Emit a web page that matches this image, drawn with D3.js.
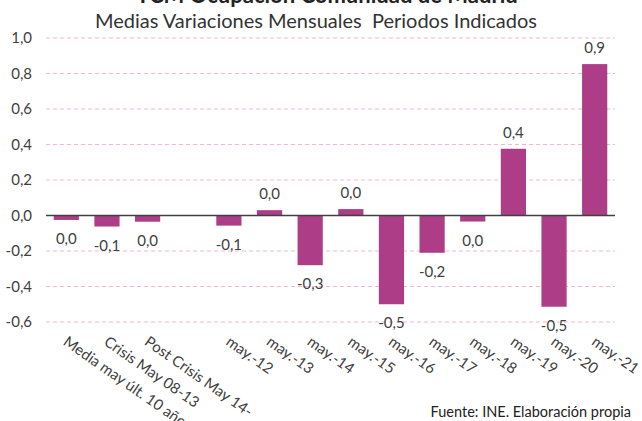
<!DOCTYPE html>
<html>
<head>
<meta charset="utf-8">
<script src="https://cdn.jsdelivr.net/npm/d3@7"></script>
<style>
  body { margin: 0; background: #fff; }
  svg { display: block; font-family: Lato, "Liberation Sans", Arial, sans-serif; }
</style>
</head>
<body>
<div id="chart"></div>
<script>
// data
var categories = ['Media may últ. 10 años', 'Crisis May 08-13', 'Post Crisis May 14-', '',
  'may.-12', 'may.-13', 'may.-14', 'may.-15', 'may.-16', 'may.-17', 'may.-18', 'may.-19', 'may.-20', 'may.-21'];
var values = [-0.025, -0.062, -0.035, null, -0.057, 0.03, -0.28, 0.036, -0.50, -0.21, -0.034, 0.376, -0.514, 0.853];
var yTicks = [-0.6, -0.4, -0.2, 0, 0.2, 0.4, 0.6, 0.8, 1.0];

var width = 642, height = 421;
var margin = { top: 38, left: 46, right: 27, bottom: 99 };
var font = 'Lato, "Liberation Sans", Arial, sans-serif';

var loc = d3.formatLocale({ decimal: ',', thousands: '.', grouping: [3], currency: ['', '€'], minus: '-' });
var fmt = function(v) { return loc.format('.1f')(Math.round(v * 10) / 10 || 0); };

var svg = d3.select('#chart').append('svg')
  .attr('width', width)
  .attr('height', height);

var x = d3.scaleBand().domain(d3.range(categories.length))
  .range([margin.left, width - margin.right])
  .paddingInner(0.38).paddingOuter(0.19);

var y = d3.scaleLinear().domain([-0.6, 1.0]).range([height - margin.bottom, margin.top]);

// titles (the main title is cut off at the top, as in the original)
svg.append('text').text('TCM Ocupación Comunidad de Madrid')
  .attr('x', 327).attr('y', 3)
  .attr('text-anchor', 'middle')
  .attr('font-size', 22).attr('font-weight', 'bold').attr('fill', '#222');

svg.append('text').text('Medias Variaciones Mensuales  Periodos Indicados')
  .attr('x', 316).attr('y', 28)
  .attr('text-anchor', 'middle')
  .attr('font-size', 20).attr('fill', '#333')
  .style('white-space', 'pre');

// grid
svg.append('g').selectAll('line')
  .data(yTicks.filter(function(d) { return d !== 0; }))
  .enter().append('line')
    .attr('x1', margin.left).attr('x2', width - margin.right)
    .attr('y1', function(d) { return y(d); }).attr('y2', function(d) { return y(d); })
    .attr('stroke', '#f0b6dc').attr('stroke-width', 1)
    .attr('stroke-dasharray', '4,3');

// y axis labels
var yAxis = d3.axisLeft(y).tickValues(yTicks).tickSize(0).tickPadding(14)
  .tickFormat(function(d) { return fmt(d); });
var yg = svg.append('g').attr('transform', 'translate(' + margin.left + ',0)').call(yAxis);
yg.select('.domain').remove();
yg.selectAll('text').attr('font-size', 15).attr('fill', '#404040')
  .attr('font-family', font);

// bars
var data = values.map(function(v, i) { return { i: i, v: v }; }).filter(function(d) { return d.v !== null; });

svg.append('g').selectAll('rect')
  .data(data)
  .enter().append('rect')
    .attr('x', function(d) { return x(d.i); })
    .attr('width', x.bandwidth())
    .attr('y', function(d) { return y(Math.max(0, d.v)); })
    .attr('height', function(d) { return Math.abs(y(d.v) - y(0)); })
    .attr('fill', '#ad3d87');

// zero line
svg.append('line')
  .attr('x1', margin.left).attr('x2', width - margin.right)
  .attr('y1', y(0)).attr('y2', y(0))
  .attr('stroke', '#404040').attr('stroke-width', 1.5);

// value labels
svg.append('g').selectAll('text')
  .data(data)
  .enter().append('text')
    .text(function(d) { return fmt(d.v); })
    .attr('x', function(d) { return x(d.i) + x.bandwidth() / 2; })
    .attr('y', function(d) { return d.v >= 0 ? y(d.v) - 11 : y(d.v) + 24; })
    .attr('text-anchor', 'middle')
    .attr('font-size', 15).attr('fill', '#404040');

// category labels, rotated (the first one runs off the bottom, as in the original)
svg.append('g').selectAll('text')
  .data(categories)
  .enter().append('text')
    .text(function(d) { return d; })
    .attr('transform', function(d, i) {
      return 'translate(' + (x(i) + x.bandwidth() / 2 - 4) + ',' + (y(-0.6) + 22) + ') rotate(35)';
    })
    .attr('font-size', 15).attr('fill', '#404040');

// source
svg.append('text').text('Fuente: INE. Elaboración propia')
  .attr('x', 631).attr('y', 417)
  .attr('text-anchor', 'end')
  .attr('font-size', 14.5).attr('fill', '#222');
</script>
</body>
</html>
